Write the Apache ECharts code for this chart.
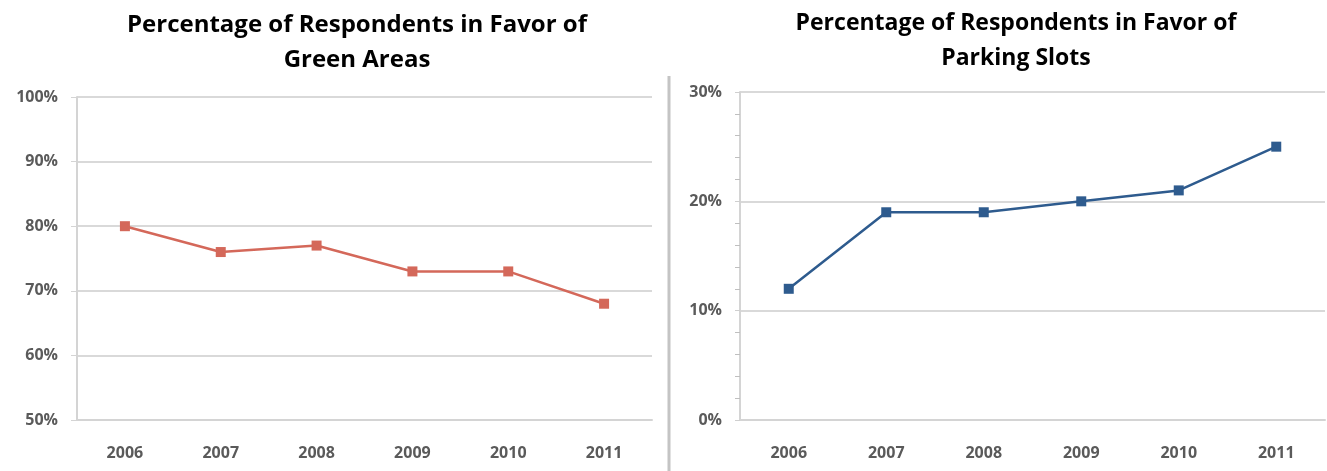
<!DOCTYPE html>
<html>
<head>
<meta charset="utf-8">
<script src="https://cdn.jsdelivr.net/npm/echarts@6/dist/echarts.min.js"></script>
<style>
  html, body { margin: 0; padding: 0; background: #fff; }
  #main { width: 1327px; height: 471px; }
</style>
</head>
<body>
<div id="main"></div>
<script>
// data
var years = ['2006', '2007', '2008', '2009', '2010', '2011'];
var greenAreas = [80, 76, 77, 73, 73, 68];
var parkingSlots = [12, 19, 19, 20, 21, 25];

var dom = document.getElementById('main');
var myChart = echarts.init(dom, null, { renderer: 'canvas' });

var labelStyle = {
    color: '#5a5a5a',
    fontFamily: 'Open Sans',
    fontSize: 16,
    fontWeight: 'bold'
};

function xAxisFor(gridIndex) {
    return {
        type: 'category',
        gridIndex: gridIndex,
        data: years,
        boundaryGap: true,
        axisLine: { lineStyle: { color: '#d4d4d4', width: 2 } },
        axisTick: { alignWithLabel: true, length: 5, lineStyle: { color: '#cfcfcf' } },
        axisLabel: Object.assign({ margin: 25 }, labelStyle)
    };
}

var option = {
    animation: false,
    title: [
        {
            text: 'Percentage of Respondents in Favor of\nGreen Areas',
            left: 352, top: 3, textAlign: 'center',
            textStyle: { fontFamily: 'Open Sans', fontWeight: 'bold', fontSize: 24, lineHeight: 35, color: '#000' }
        },
        {
            text: 'Percentage of Respondents in Favor of\nParking Slots',
            left: 1011, top: 1, textAlign: 'center',
            textStyle: { fontFamily: 'Open Sans', fontWeight: 'bold', fontSize: 23, lineHeight: 35, color: '#000' }
        }
    ],
    graphic: [
        {
            type: 'line',
            shape: { x1: 669, y1: 76, x2: 669, y2: 471 },
            style: { stroke: '#c4c4c4', lineWidth: 3 }
        }
    ],
    grid: [
        { left: 77, top: 97, width: 575, height: 323 },
        { left: 740, top: 92, width: 585, height: 328 }
    ],
    xAxis: [xAxisFor(0), xAxisFor(1)],
    yAxis: [
        {
            type: 'value',
            gridIndex: 0,
            min: 50, max: 100, interval: 10,
            axisLine: { show: true, lineStyle: { color: '#d4d4d4', width: 2 } },
            axisTick: { show: true, length: 6, lineStyle: { color: '#d4d4d4' } },
            splitLine: { lineStyle: { color: '#d9d9d9', width: 2 } },
            axisLabel: Object.assign({ margin: 19, formatter: '{value}%' }, labelStyle)
        },
        {
            type: 'value',
            gridIndex: 1,
            min: 0, max: 30, interval: 10,
            axisLine: { show: true, lineStyle: { color: '#d4d4d4', width: 2 } },
            axisTick: { show: true, length: 5, lineStyle: { color: '#cfcfcf' } },
            minorTick: { show: true, splitNumber: 5, length: 5, lineStyle: { color: '#bfbfbf' } },
            splitLine: { lineStyle: { color: '#d9d9d9', width: 2 } },
            axisLabel: Object.assign({ margin: 18, formatter: '{value}%' }, labelStyle)
        }
    ],
    series: [
        {
            type: 'line',
            xAxisIndex: 0, yAxisIndex: 0,
            data: greenAreas,
            symbol: 'rect', symbolSize: 10,
            lineStyle: { color: '#d4685a', width: 2.5 },
            itemStyle: { color: '#d4685a' }
        },
        {
            type: 'line',
            xAxisIndex: 1, yAxisIndex: 1,
            data: parkingSlots,
            symbol: 'rect', symbolSize: 10,
            lineStyle: { color: '#2e5b8e', width: 2.5 },
            itemStyle: { color: '#2e5b8e' }
        }
    ]
};

myChart.setOption(option);
window.addEventListener('resize', myChart.resize);
</script>
</body>
</html>
